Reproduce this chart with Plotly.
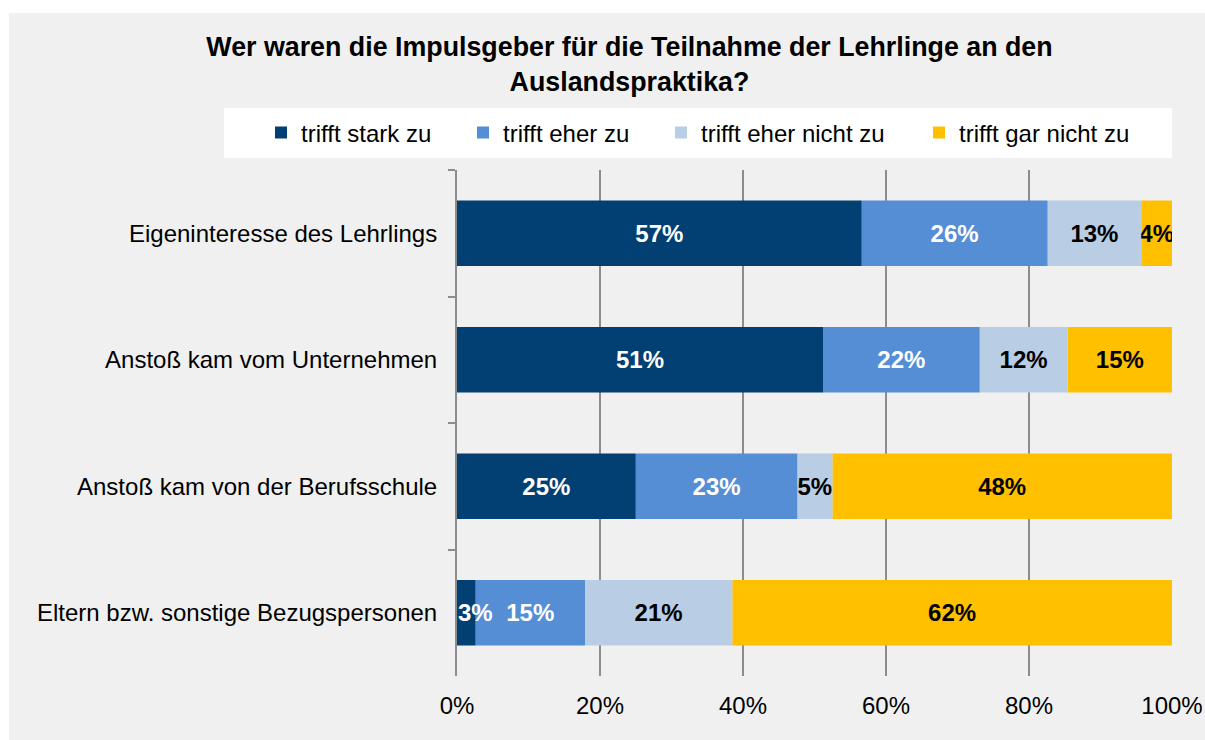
import plotly.graph_objects as go

# ---- data ----
categories = [
    "Eigeninteresse des Lehrlings",
    "Anstoß kam vom Unternehmen",
    "Anstoß kam von der Berufsschule",
    "Eltern bzw. sonstige Bezugspersonen",
]
series_names = ["trifft stark zu", "trifft eher zu", "trifft eher nicht zu", "trifft gar nicht zu"]
stark = [56.6, 51.2, 25.0, 2.6]
eher = [26.0, 21.9, 22.6, 15.3]
eher_nicht = [13.1, 12.3, 4.9, 20.6]
gar_nicht = [4.3, 14.6, 47.5, 61.5]
x_tickvals = [0, 20, 40, 60, 80, 100]
x_ticktext = ["0%", "20%", "40%", "60%", "80%", "100%"]

colors = ["#023F72", "#558ED5", "#B9CDE5", "#FFC000"]
text_colors = ["white", "white", "black", "black"]
legend_ids = ["legend", "legend2", "legend3", "legend4"]

FONT = "Liberation Sans, Arial, sans-serif"
W, H = 1205, 740
L, R, T, B = 457, 33, 170, 64
pw, ph = W - L - R, H - T - B


def px_x(px):
    return (px - L) / pw


def px_y(py):
    return (H - B - py) / ph


BASE_TPL = "%{x:.0f}%"
# a label wider than its bar is pushed right so it stays inside the plot area (as in the source chart)
SHIFTED_TPL = "\u2007\u2009%{x:.0f}%"

all_series = [stark, eher, eher_nicht, gar_nicht]
# stacked bases (cumulative sums of the preceding series)
bases = []
running = [0.0] * len(categories)
for vals in all_series:
    bases.append(list(running))
    running = [r + v for r, v in zip(running, vals)]

traces = []
for i, (name, vals, base, col, tcol, lg) in enumerate(zip(series_names, all_series, bases,
                                                          colors, text_colors, legend_ids)):
    if i == 0:
        tpl = [SHIFTED_TPL if v < 4 else BASE_TPL for v in vals]
    else:
        tpl = BASE_TPL
    traces.append(go.Bar(
        y=categories, x=vals, base=base, name=name, orientation="h",
        marker=dict(color=col, line=dict(width=0)),
        texttemplate=tpl, textposition="inside", insidetextanchor="middle",
        textangle=0, constraintext="none", cliponaxis=(i != 0),
        textfont=dict(family=FONT, size=24, color=tcol, weight="bold"),
        legend=lg, hoverinfo="skip",
    ))

fig = go.Figure()
# draw in reverse so that overflowing labels of the first series stay on top
for tr in reversed(traces):
    fig.add_trace(tr)

legend_lefts = [261, 463, 661, 919]
legend_layouts = {}
for lg, left in zip(legend_ids, legend_lefts):
    legend_layouts[lg] = dict(
        x=px_x(left), xanchor="left", y=px_y(133), yanchor="middle",
        orientation="h", bgcolor="rgba(0,0,0,0)", borderwidth=0,
        font=dict(family=FONT, size=24, color="#000000"),
        itemclick=False, itemdoubleclick=False,
    )

fig.update_layout(
    width=W, height=H,
    margin=dict(l=L, r=R, t=T, b=B, pad=0, autoexpand=False),
    paper_bgcolor="white", plot_bgcolor="#F0F0F0",
    barmode="overlay", bargap=0.483,
    font=dict(family=FONT, size=24, color="#000000"),
    title=dict(
        text="Wer waren die Impulsgeber für die Teilnahme der Lehrlinge an den<br>Auslandspraktika?",
        font=dict(family=FONT, size=26.8, color="#000000", weight="bold"),
        x=629.5 / W, xanchor="center", xref="container",
        y=1 - 56 / H, yanchor="top", yref="container",
    ),
    showlegend=True,
    shapes=[
        dict(type="rect", xref="paper", yref="paper", layer="below",
             x0=px_x(9), x1=px_x(1210), y0=px_y(745), y1=px_y(13),
             fillcolor="#F0F0F0", line=dict(width=0)),
        dict(type="rect", xref="paper", yref="paper", layer="below",
             x0=px_x(224), x1=px_x(1172), y0=px_y(158), y1=px_y(108),
             fillcolor="white", line=dict(width=0)),
    ],
    **legend_layouts,
)

fig.update_xaxes(
    range=[0, 100], tickvals=x_tickvals, ticktext=x_ticktext,
    showgrid=True, gridcolor="#8C8C8C", gridwidth=2,
    zeroline=False, showline=False, ticks="", ticklabelstandoff=13,
    tickfont=dict(family=FONT, size=24, color="#000000"),
    fixedrange=True,
)
fig.update_yaxes(
    type="category", categoryorder="array", categoryarray=categories,
    autorange="reversed",
    showline=True, linecolor="#8C8C8C", linewidth=2,
    ticks="outside", tickson="boundaries", ticklen=7, tickwidth=2, tickcolor="#8C8C8C",
    showgrid=False, ticklabelstandoff=13,
    tickfont=dict(family=FONT, size=24, color="#000000"),
    fixedrange=True,
)

fig.write_html(
    "out.html",
    config={"displayModeBar": False},
    post_script="document.body.style.margin='0';document.body.style.overflow='hidden';",
)
